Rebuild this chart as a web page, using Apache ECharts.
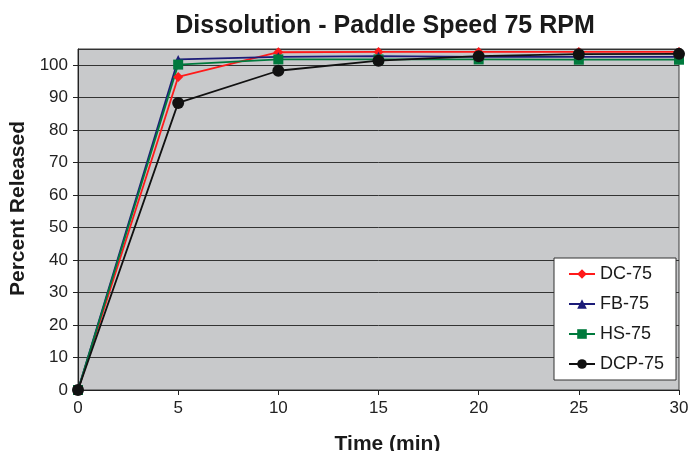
<!DOCTYPE html>
<html>
<head>
<meta charset="utf-8">
<script src="https://cdn.jsdelivr.net/npm/echarts@6/dist/echarts.min.js"></script>
<style>
    html, body { margin: 0; padding: 0; background: #fff; }
    #chart-box { width: 691px; height: 451px; }
</style>
</head>
<body>
<div id="chart-box"></div>
<script>
// sampling times (min)
var times = [0, 5, 10, 15, 20, 25, 30];

// percent released per formulation
var dc75 = [0, 96.4, 104.0, 104.1, 104.1, 104.1, 104.1];
var fb75 = [0, 101.8, 102.6, 102.8, 102.6, 102.6, 102.6];
var hs75 = [0, 100.2, 101.8, 101.8, 101.8, 101.7, 101.7];
var dcp75 = [0, 88.4, 98.3, 101.4, 102.8, 103.4, 103.5];

var seriesNames = ['DC-75', 'FB-75', 'HS-75', 'DCP-75'];

function pairs(values) {
    var res = [];
    for (let i = 0; i < times.length; ++i) {
        res.push([times[i], values[i]]);
    }
    return res;
}

function makeSeries(name, values, color, symbol, size) {
    return {
        name: name,
        type: 'line',
        data: pairs(values),
        symbol: symbol,
        symbolSize: size,
        showSymbol: true,
        lineStyle: { color: color, width: 1.8 },
        itemStyle: { color: color },
        emphasis: { disabled: true },
        animation: false
    };
}

var chart = echarts.init(document.getElementById('chart-box'));

var option = {
    backgroundColor: '#ffffff',
    title: {
        text: 'Dissolution - Paddle Speed 75 RPM',
        left: 380,
        top: 9,
        textAlign: 'center',
        textStyle: {
            fontFamily: 'Liberation Sans',
            fontSize: 25,
            fontWeight: 'bold',
            color: '#1a1a1a'
        }
    },
    grid: {
        left: 78,
        right: 12,
        top: 49,
        bottom: 61,
        outerBoundsMode: 'none',
        show: true,
        backgroundColor: '#c8c9cb',
        borderColor: '#3a3a3a',
        borderWidth: 1
    },
    legend: {
        data: seriesNames,
        orient: 'vertical',
        left: 554,
        top: 258,
        padding: [7, 12, 7, 14],
        itemWidth: 26,
        itemHeight: 12,
        itemGap: 12,
        backgroundColor: '#ffffff',
        borderColor: '#333333',
        borderWidth: 1,
        textStyle: {
            fontFamily: 'Liberation Sans',
            fontSize: 18,
            color: '#1a1a1a'
        }
    },
    xAxis: {
        type: 'value',
        min: 0,
        max: 30,
        interval: 5,
        name: 'Time (min)',
        nameLocation: 'middle',
        nameGap: 44,
        nameTextStyle: {
            fontFamily: 'Liberation Sans',
            fontSize: 21,
            fontWeight: 'bold',
            color: '#1a1a1a',
            padding: [0, 0, 0, 18]
        },
        axisLine: { show: true, lineStyle: { color: '#222', width: 1 } },
        axisTick: { show: true, inside: false, length: 5, lineStyle: { color: '#222' } },
        axisLabel: {
            margin: 10,
            fontFamily: 'Liberation Sans',
            fontSize: 17,
            color: '#222'
        },
        splitLine: { show: false }
    },
    yAxis: {
        type: 'value',
        min: 0,
        max: 105,
        interval: 10,
        name: 'Percent Released',
        nameLocation: 'middle',
        nameGap: 41,
        nameTextStyle: {
            fontFamily: 'Liberation Sans',
            fontSize: 21,
            fontWeight: 'bold',
            color: '#1a1a1a',
            padding: [0, 0, 0, 22]
        },
        axisLine: { show: true, lineStyle: { color: '#222', width: 1 } },
        axisTick: { show: true, inside: false, length: 5, lineStyle: { color: '#222' } },
        axisLabel: {
            margin: 10,
            fontFamily: 'Liberation Sans',
            fontSize: 17,
            color: '#222',
            showMaxLabel: false,
            formatter: function(v) {
                return v > 100 ? '' : v;
            }
        },
        splitLine: { show: true, lineStyle: { color: '#333', width: 1 } }
    },
    series: [
        makeSeries('DC-75', dc75, '#ff1a1a', 'diamond', 10),
        makeSeries('FB-75', fb75, '#1c1c78', 'triangle', 9),
        makeSeries('HS-75', hs75, '#007a3d', 'rect', 10),
        makeSeries('DCP-75', dcp75, '#111111', 'circle', 12)
    ]
};

chart.setOption(option);
</script>
</body>
</html>
